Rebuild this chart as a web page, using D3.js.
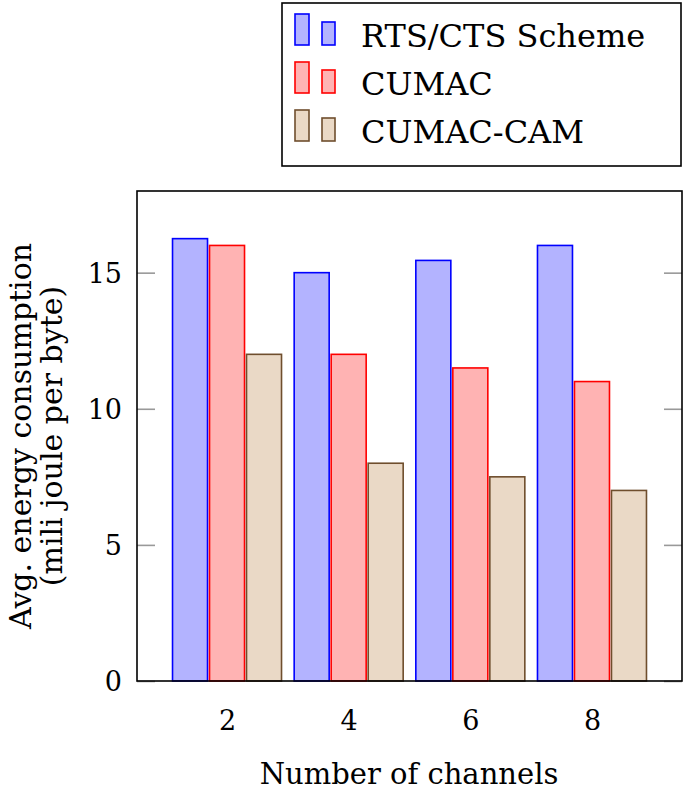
<!DOCTYPE html>
<html><head><meta charset="utf-8">
<script src="https://cdn.jsdelivr.net/npm/d3@7"></script>
<style>html,body{margin:0;padding:0;background:#fff}svg{display:block}</style>
</head><body>
<script>
const categories = [2, 4, 6, 8];
const seriesNames = ["RTS/CTS Scheme", "CUMAC", "CUMAC-CAM"];
const rtsCts = [16.25, 15, 15.45, 16];
const cumac = [16, 12, 11.5, 11];
const cumacCam = [12, 8, 7.5, 7];
const yTicks = [0, 5, 10, 15];
const xLabel = "Number of channels";
const yLabelLines = ["Avg. energy consumption", "(mili joule per byte)"];

const W = 685, H = 797;
const FONT = "'DejaVu Serif', serif";
const series = [
  {name: seriesNames[0], values: rtsCts, fill: "#b3b3ff", stroke: "#0000ff"},
  {name: seriesNames[1], values: cumac, fill: "#ffb3b3", stroke: "#ff0000"},
  {name: seriesNames[2], values: cumacCam, fill: "#ead9c6", stroke: "#6f4e2d"}
];

const svg = d3.select("body").append("svg").attr("width", W).attr("height", H);
const L = 137, R = 682, T = 191, B = 681;
const x = d3.scaleLinear().domain([0.52, 9.48]).range([L, R]);
const y = d3.scaleLinear().domain([0, 18]).range([B, T]);
const barW = 35, off = 37;

// bars
series.forEach((s, i) => {
  svg.append("g").selectAll("rect").data(s.values).join("rect")
    .attr("x", (d, j) => x(categories[j]) + (i - 1) * off - barW / 2)
    .attr("y", d => y(d))
    .attr("width", barW)
    .attr("height", d => y(0) - y(d))
    .attr("fill", s.fill).attr("stroke", s.stroke).attr("stroke-width", 1.6);
});

// y ticks left and right (inside)
const yAxisL = d3.axisLeft(y).tickValues(yTicks).tickSize(-18).tickPadding(15).tickFormat(d3.format("d"));
const gl = svg.append("g").attr("transform", `translate(${L},0)`).call(yAxisL);
gl.select(".domain").remove();
gl.selectAll(".tick line").attr("stroke", "#999").attr("stroke-width", 1.6);
gl.selectAll(".tick text").attr("font-family", FONT).attr("font-size", 27).attr("fill", "#000").attr("dy", "0.36em");

const yAxisR = d3.axisRight(y).tickValues(yTicks).tickSize(-18).tickFormat("");
const gr = svg.append("g").attr("transform", `translate(${R},0)`).call(yAxisR);
gr.select(".domain").remove();
gr.selectAll(".tick line").attr("stroke", "#999").attr("stroke-width", 1.6);

// x tick labels
const xAxis = d3.axisBottom(x).tickValues(categories).tickSize(0).tickPadding(30).tickFormat(d3.format("d"));
const gx = svg.append("g").attr("transform", `translate(0,${B})`).call(xAxis);
gx.select(".domain").remove();
gx.selectAll(".tick text").attr("font-family", FONT).attr("font-size", 27).attr("fill", "#000");

// frame
svg.append("rect").attr("x", L).attr("y", T).attr("width", R - L).attr("height", B - T)
  .attr("fill", "none").attr("stroke", "#000").attr("stroke-width", 1.6);

// x label
svg.append("text").attr("x", 409).attr("y", 784).attr("text-anchor", "middle")
  .attr("font-family", FONT).attr("font-size", 29).text(xLabel);

// y label
const yl = svg.append("text").attr("transform", `translate(31,${(T + B) / 2}) rotate(-90)`)
  .attr("text-anchor", "middle").attr("font-family", FONT).attr("font-size", 30);
yLabelLines.forEach((t, i) => yl.append("tspan").attr("x", 0).attr("dy", i === 0 ? 0 : 31).text(t));

// legend
const lg = svg.append("g");
lg.append("rect").attr("x", 282).attr("y", 3).attr("width", 399).attr("height", 163)
  .attr("fill", "#fff").attr("stroke", "#000").attr("stroke-width", 1.6);
series.forEach((s, i) => {
  const by = 45 + i * 48;
  lg.append("rect").attr("x", 295).attr("y", by - 31).attr("width", 14).attr("height", 31)
    .attr("fill", s.fill).attr("stroke", s.stroke).attr("stroke-width", 1.6);
  lg.append("rect").attr("x", 322).attr("y", by - 23).attr("width", 13).attr("height", 23)
    .attr("fill", s.fill).attr("stroke", s.stroke).attr("stroke-width", 1.6);
  lg.append("text").attr("x", 361).attr("y", by + 2).attr("font-family", FONT).attr("font-size", 32)
    .text(s.name);
});
</script>
</body></html>
